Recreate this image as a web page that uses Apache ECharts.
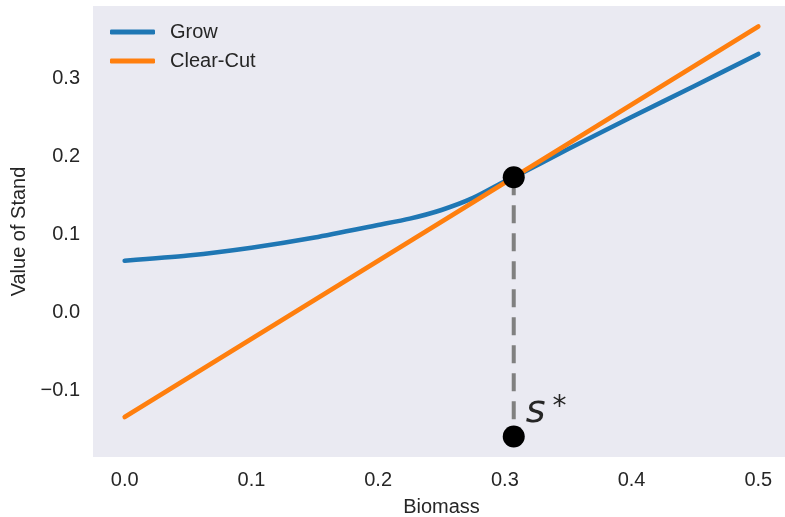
<!DOCTYPE html>
<html>
<head>
<meta charset="utf-8">
<script src="https://cdn.jsdelivr.net/npm/echarts@6/dist/echarts.min.js"></script>
<style>html,body{margin:0;padding:0;background:#fff}#c{width:785px;height:517px}</style>
</head>
<body>
<div id="c"></div>
<script>
// ---- data ----
const biomass      = [0, 0.05, 0.1, 0.15, 0.2, 0.225, 0.25, 0.275, 0.3, 0.307, 0.35, 0.4, 0.45, 0.5];
const growValue    = [0.0668, 0.0735, 0.0835, 0.0965, 0.1125, 0.1207, 0.1318, 0.1472, 0.1685, 0.1737, 0.2098, 0.2508, 0.2908, 0.3315];
const cutBiomass   = [0, 0.5];
const cutValue     = [-0.1333, 0.3667];
const sStar        = 0.307;
const sStarValue   = 0.1737;
const sStarFloor   = -0.1583;
const xTicks       = [0, 0.1, 0.2, 0.3, 0.4, 0.5];
const xTickLabels  = ['0.0', '0.1', '0.2', '0.3', '0.4', '0.5'];
const yTicks       = [-0.1, 0, 0.1, 0.2, 0.3];
const yTickLabels  = ['\u22120.1', '0.0', '0.1', '0.2', '0.3'];
const seriesNames  = ['Grow', 'Clear-Cut'];

const txt = '#262626';
const font = 'Liberation Sans, Arial, sans-serif';
function lab(ticks, labels) {
  return v => { const i = ticks.findIndex(t => Math.abs(t - v) < 1e-9); return i >= 0 ? labels[i] : ''; };
}

const chart = echarts.init(document.getElementById('c'), null, {renderer: 'canvas'});
chart.setOption({
  animation: false,
  grid: {left: 93, right: -5, top: 6, bottom: 60, show: true, backgroundColor: '#EAEAF2', borderWidth: 0,
         containLabel: false, outerBoundsMode: 'none'},
  legend: {
    orient: 'vertical', left: 110, top: 22, padding: 0, itemGap: 9,
    itemWidth: 45, itemHeight: 5, icon: 'roundRect',
    data: seriesNames,
    textStyle: {color: txt, fontSize: 20, fontFamily: font, padding: [0, 0, 0, 10]}
  },
  xAxis: {
    type: 'value', min: -0.025, max: 0.525,
    name: 'Biomass', nameLocation: 'middle', nameGap: 40,
    nameTextStyle: {color: txt, fontSize: 20, fontFamily: font},
    axisLine: {show: false}, axisTick: {show: false}, splitLine: {show: false},
    axisLabel: {customValues: xTicks, formatter: lab(xTicks, xTickLabels), color: txt, fontSize: 20, fontFamily: font, margin: 13}
  },
  yAxis: {
    type: 'value', min: -0.18455, max: 0.39295,
    name: 'Value of Stand', nameLocation: 'middle', nameGap: 63, nameRotate: 90,
    nameTextStyle: {color: txt, fontSize: 20, fontFamily: font},
    axisLine: {show: false}, axisTick: {show: false}, splitLine: {show: false},
    axisLabel: {customValues: yTicks, formatter: lab(yTicks, yTickLabels), color: txt, fontSize: 20, fontFamily: font, margin: 13}
  },
  series: [
    {
      name: seriesNames[0], type: 'line', showSymbol: false, smooth: 0.25,
      color: '#1f77b4', lineStyle: {width: 4.6, cap: 'round', join: 'round'},
      data: biomass.map((x, i) => [x, growValue[i]]), z: 2
    },
    {
      name: seriesNames[1], type: 'line', showSymbol: false,
      color: '#ff7f0e', lineStyle: {width: 4.6, cap: 'round'},
      data: cutBiomass.map((x, i) => [x, cutValue[i]]), z: 3
    },
    {
      name: 'threshold', type: 'line', showSymbol: false, silent: true,
      color: '#808080', lineStyle: {width: 4, type: [18, 10], cap: 'butt'},
      data: [[sStar, sStarValue], [sStar, sStarFloor]], z: 4
    },
    {
      name: 'points', type: 'scatter', symbol: 'circle', symbolSize: 22,
      itemStyle: {color: '#000', opacity: 1}, z: 5,
      data: [
        [sStar, sStarValue],
        {value: [sStar, sStarFloor], label: {
          show: true, position: [23, -32], align: 'left', verticalAlign: 'top',
          formatter: '{s|s}{a|*}',
          rich: {
            s: {fontSize: 38, fontStyle: 'italic', fontFamily: 'DejaVu Sans', color: txt, lineHeight: 38},
            a: {fontSize: 28, fontFamily: 'DejaVu Sans', color: txt, verticalAlign: 'top', lineHeight: 28, padding: [0, 0, 0, 7]}
          }
        }}
      ]
    }
  ]
});
</script>
</body>
</html>
